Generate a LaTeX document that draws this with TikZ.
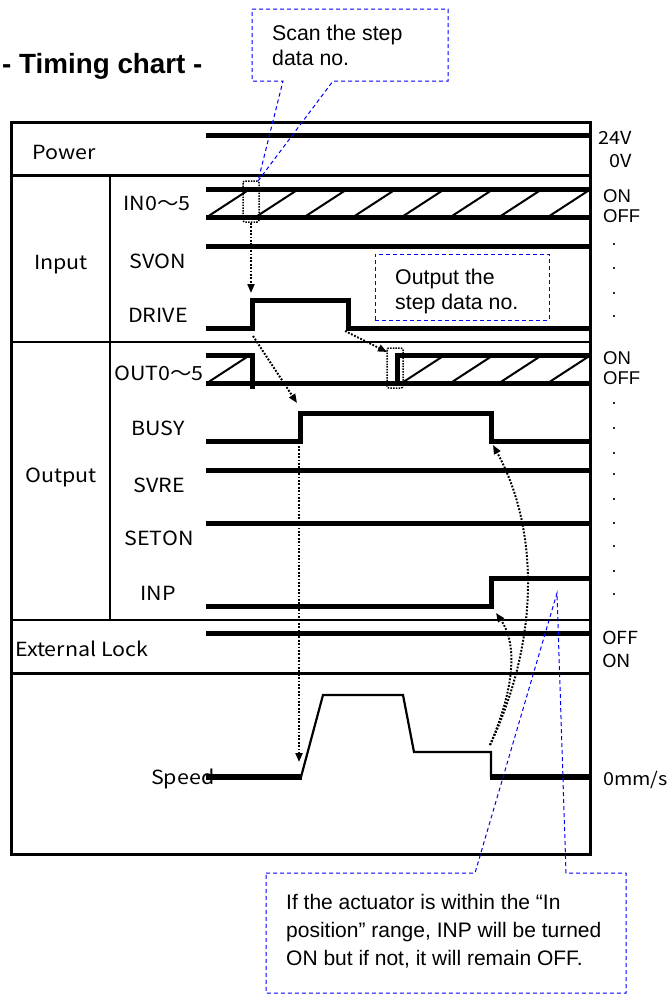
\documentclass[tikz,border=0pt]{standalone}
\usepackage{fontspec}
\setmainfont{Liberation Sans}
\newfontfamily\jpf[FakeStretch=1.1]{Noto Sans CJK JP}
\usetikzlibrary{arrows.meta}
\begin{document}
\begin{tikzpicture}[x=1pt,y=-1pt,
  sig/.style={line width=5pt, line join=miter},
  frm/.style={line width=3pt},
  thinfrm/.style={line width=2pt},
  hatchln/.style={line width=2pt},
  spd/.style={line width=2.2pt, line join=miter},
  dotarr/.style={line width=2pt, dash pattern=on 1.8pt off 1.6pt, -{Triangle[length=9pt,width=7pt]}},
  dotbox/.style={line width=1.5pt, dash pattern=on 1.5pt off 1.2pt, rounded corners=2pt},
  bluecall/.style={draw=blue, line width=1pt, dash pattern=on 4pt off 3pt},
  lbl/.style={font=\jpf\fontsize{19.5}{22}\selectfont, inner sep=0pt, anchor=base},
  rlbl/.style={font=\fontsize{18.5}{22}\selectfont, inner sep=0pt, anchor=base west},
  rjlbl/.style={font=\jpf\fontsize{18}{22}\selectfont, inner sep=0pt, anchor=base west},
  ctext/.style={font=\fontsize{21.3}{26}\selectfont, inner sep=0pt, anchor=base west},
  btext/.style={font=\fontsize{21}{26}\selectfont, inner sep=0pt, anchor=base west},
  dotlbl/.style={font=\fontsize{18}{22}\selectfont, inner sep=0pt, anchor=base},
]
\useasboundingbox (0,0) rectangle (669,994);

% title
\node[font=\bfseries\fontsize{27.8}{30}\selectfont, inner sep=0pt, anchor=base west] (title) at (2,73) {- Timing chart -};

% frame
\draw[frm] (11,122) rectangle (590,854);
\draw[frm] (11,175) -- (590,175);
\draw[thinfrm] (11,342) -- (590,342);
\draw[thinfrm] (11,620) -- (590,620);
\draw[frm] (11,673) -- (590,673);
\draw[thinfrm] (110,175) -- (110,620);

% row labels
\node[lbl, anchor=base west] (lpower) at (32,159) {Power};
\node[lbl] (linput) at (61,269) {Input};
\node[lbl] (lin) at (157,210) {IN0～5};
\node[lbl] (lsvon) at (158,268) {SVON};
\node[lbl] (ldrive) at (158,322) {DRIVE};
\node[lbl] (lout) at (159,380) {OUT0～5};
\node[lbl] (lbusy) at (158,435) {BUSY};
\node[lbl] (loutput) at (61,482) {Output};
\node[lbl] (lsvre) at (159,492) {SVRE};
\node[lbl] (lseton) at (159,545) {SETON};
\node[lbl] (linp) at (158,600) {INP};
\node[lbl, anchor=base west] (lext) at (15,656) {External Lock};
\node[lbl, anchor=base west] (lspeed) at (151,784) {Speed};

% right labels
\node[rjlbl, anchor=base east] (r24) at (632,144) {24V};
\node[rjlbl, anchor=base east] (r0) at (632,167) {0V};
\node[rlbl] (rinon) at (603,202) {ON};
\node[rlbl] (rinoff) at (603,222) {OFF};
\node[rlbl] (routon) at (603,364) {ON};
\node[rlbl] (routoff) at (603,384) {OFF};
\node[rjlbl] (rextoff) at (602,644) {OFF};
\node[rjlbl] (rexton) at (602,667) {ON};
\node[rjlbl] (rspd) at (603,785) {0mm/s};
\foreach \yy [count=\i] in {243,267,292,315,402,427,452,473,498,522,545,570,593}
  \node[dotlbl] (dot\i) at (614,\yy+2) {.};

% Power
\draw[sig] (206,135) -- (590,135);
% IN0-5
\draw[sig] (206,189) -- (590,189);
\draw[sig] (206,217) -- (590,217);
\foreach \k in {0,...,7}
  \draw[hatchln] ({207+48.7*\k},217) -- ({250+48.7*\k},189);
% SVON
\draw[sig] (206,246) -- (590,246);
% DRIVE
\draw[sig] (206,328) -- (252,328) -- (252,300) -- (348,300) -- (348,328) -- (590,328);
% OUT0-5
\draw[sig] (206,355) -- (254,355);
\draw[sig] (252,353) -- (252,389);
\draw[sig] (206,383) -- (590,383);
\draw[hatchln] (207,383) -- (250,355);
\draw[sig] (397,385.5) -- (397,355) -- (590,355);
\foreach \k in {4,...,7}
  \draw[hatchln] ({207+48.7*\k},383) -- ({250+48.7*\k},355);
% BUSY
\draw[sig] (206,441) -- (300,441) -- (300,413) -- (491,413) -- (491,441) -- (590,441);
% SVRE
\draw[sig] (206,470) -- (590,470);
% SETON
\draw[sig] (206,523) -- (590,523);
% INP
\draw[sig] (206,606) -- (491,606) -- (491,578) -- (590,578);
% External lock
\draw[sig] (206,633) -- (590,633);
% Speed
\draw[line width=6pt] (206,777) -- (302,777);
\draw[spd] (301,777) -- (323,695) -- (403,695) -- (414,752) -- (491,752) -- (491,777);
\draw[line width=6pt] (490,777) -- (590,777);

% dotted boxes
\draw[dotbox] (243,181) rectangle (259,222);
\draw[dotbox] (387,348) rectangle (403,388);

% connectors
\coordinate (a1s) at (251,223);
\coordinate (a1e) at (251,293);
\coordinate (a2s) at (253,336);
\coordinate (a2e) at (297,403);
\coordinate (a3s) at (345,331);
\coordinate (a3e) at (387,352);
\coordinate (a4s) at (299,446);
\coordinate (a4e) at (299,762);
\coordinate (a5s) at (490,745);
\coordinate (a5e) at (493,445);
\coordinate (a6e) at (496,613);
\draw[dotarr] (a1s) -- (a1e);
\draw[dotarr] (a2s) -- (a2e);
\draw[dotarr] (a3s) -- (a3e);
\draw[dotarr] (a4s) -- (a4e);
\draw[dotarr] (a5s) .. controls (542,635) and (537,525) .. (a5e);
\draw[dotarr] (a5s) .. controls (518,680) and (515,640) .. (a6e);

% callout: scan
\coordinate (scanpt) at (258,181);
\draw[bluecall] (252,9) -- (448,9) -- (448,81) -- (333,81) -- (scanpt) -- (283,81) -- (252,81) -- cycle;
\node[ctext] (scan1) at (272,40) {Scan the step};
\node[ctext] (scan2) at (272,65) {data no.};

% callout: output
\node[bluecall, minimum width=174pt, minimum height=66pt, inner sep=0pt] (outbox) at (462,287) {};
\node[ctext] (out1) at (395,284) {Output the};
\node[ctext] (out2) at (395,309) {step data no.};

% callout: INP
\coordinate (inppt) at (557,593);
\draw[bluecall] (266,873) -- (475,873) -- (inppt) -- (566,873) -- (626,873) -- (626,993) -- (266,993) -- cycle;
\node[btext] (inp1) at (286,909) {If the actuator is within the “In};
\node[btext] (inp2) at (286,937) {position” range, INP will be turned};
\node[btext] (inp3) at (286,965) {ON but if not, it will remain OFF.};
\end{tikzpicture}
\end{document}
